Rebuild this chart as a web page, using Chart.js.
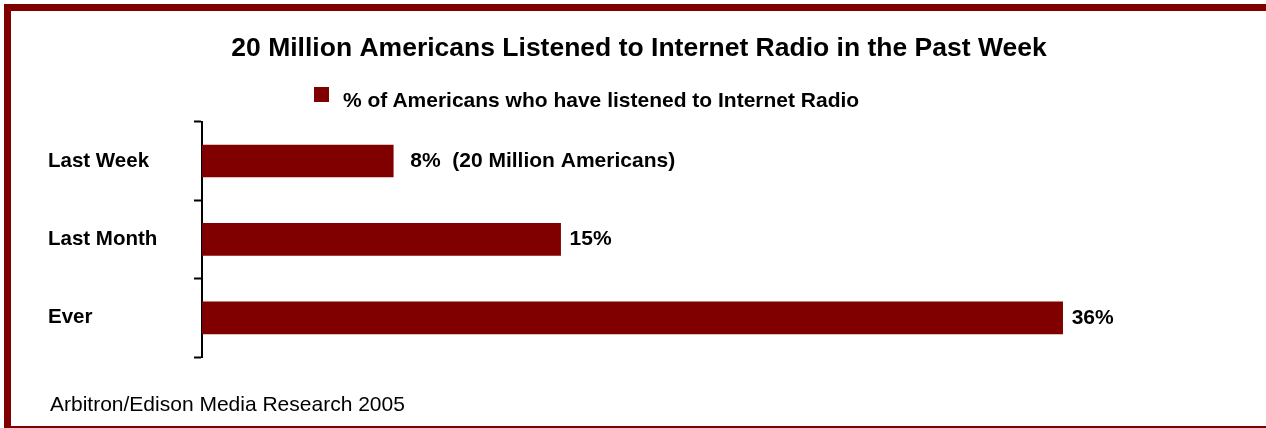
<!doctype html>
<html lang="en">
<head>
<meta charset="utf-8">
<title>Internet Radio Listening</title>
<script src="https://cdn.jsdelivr.net/npm/chart.js@4.4.1/dist/chart.umd.min.js"></script>
<style>
  body { margin: 0; background: #fff; font-family: "Liberation Sans", Arial, sans-serif; }
  #wrap { position: relative; width: 1266px; height: 428px; overflow: hidden; }
  #frame {
    position: absolute; left: 4px; top: 4px; right: 0; bottom: 0;
    border-top: 7px solid #800000;
    border-left: 7px solid #800000;
    border-bottom: 2px solid #800000;
  }
  #chart { position: absolute; left: 0; top: 0; }
  #legend .box { position: absolute; left: 314px; top: 87px; width: 15px; height: 15px; background: #800000; }
  #legend .text { position: absolute; left: 343px; top: 88px; font-weight: bold; font-size: 21px; line-height: 24px; white-space: nowrap; }
  #source { position: absolute; left: 50px; top: 393px; font-size: 21px; line-height: 22px; white-space: nowrap; }
</style>
</head>
<body>
<div id="wrap">
  <div id="frame"></div>
  <canvas id="chart" width="1266" height="428"></canvas>
  <div id="legend"></div>
  <div id="source">Arbitron/Edison Media Research 2005</div>
</div>

<script>
var categories = ["Last Week", "Last Month", "Ever"];
var percentListened = [8, 15, 36];
var labelNotes = ["(20 Million Americans)", "", ""];
var seriesName = "% of Americans who have listened to Internet Radio";
var chartTitle = "20 Million Americans Listened to Internet Radio in the Past Week";

var FONT = '"Liberation Sans", Arial, sans-serif';
var BAR_COLOR = '#800000';

// value text to the right of each bar
var valueLabels = {
  id: 'valueLabels',
  afterDatasetsDraw: function(chart) {
    var ctx = chart.ctx;
    var meta = chart.getDatasetMeta(0);
    ctx.save();
    ctx.font = 'bold 21px ' + FONT;
    ctx.fillStyle = '#000';
    ctx.textBaseline = 'middle';
    ctx.textAlign = 'left';
    meta.data.forEach(function(bar, i) {
      var txt = percentListened[i] + '%';
      var gap = 9;
      if (labelNotes[i]) {
        txt += '  ' + labelNotes[i];
        gap = 17;
      }
      ctx.fillText(txt, bar.x + gap, bar.y);
    });
    ctx.restore();
  }
};

var chart = new Chart(document.getElementById('chart'), {
  type: 'bar',
  data: {
    labels: categories,
    datasets: [{
      label: seriesName,
      data: percentListened,
      backgroundColor: BAR_COLOR,
      borderWidth: 0,
      barThickness: 32
    }]
  },
  options: {
    indexAxis: 'y',
    responsive: false,
    animation: false,
    layout: { padding: { left: 48, right: 36, top: 0, bottom: 71 } },
    plugins: {
      legend: { display: false },
      tooltip: { enabled: false },
      title: {
        display: true,
        text: chartTitle,
        color: '#000',
        font: { family: FONT, size: 26.5, weight: 'bold' },
        padding: { top: 33, bottom: 57 }
      }
    },
    scales: {
      x: { display: false, min: 0, max: 43 },
      y: {
        afterFit: function(scale) { scale.width = 154; },
        border: { display: true, color: '#000', width: 2 },
        grid: {
          offset: true,
          drawOnChartArea: false,
          drawTicks: true,
          tickLength: 8,
          tickColor: '#000',
          tickWidth: 2
        },
        ticks: {
          crossAlign: 'far',
          color: '#000',
          font: { family: FONT, size: 20.5, weight: 'bold' }
        }
      }
    }
  },
  plugins: [valueLabels]
});

// legend built from the dataset
var ds = chart.data.datasets[0];
document.getElementById('legend').innerHTML =
  '<span class="box" style="background:' + ds.backgroundColor + '"></span>' +
  '<span class="text">' + ds.label + '</span>';
</script>
</body>
</html>
